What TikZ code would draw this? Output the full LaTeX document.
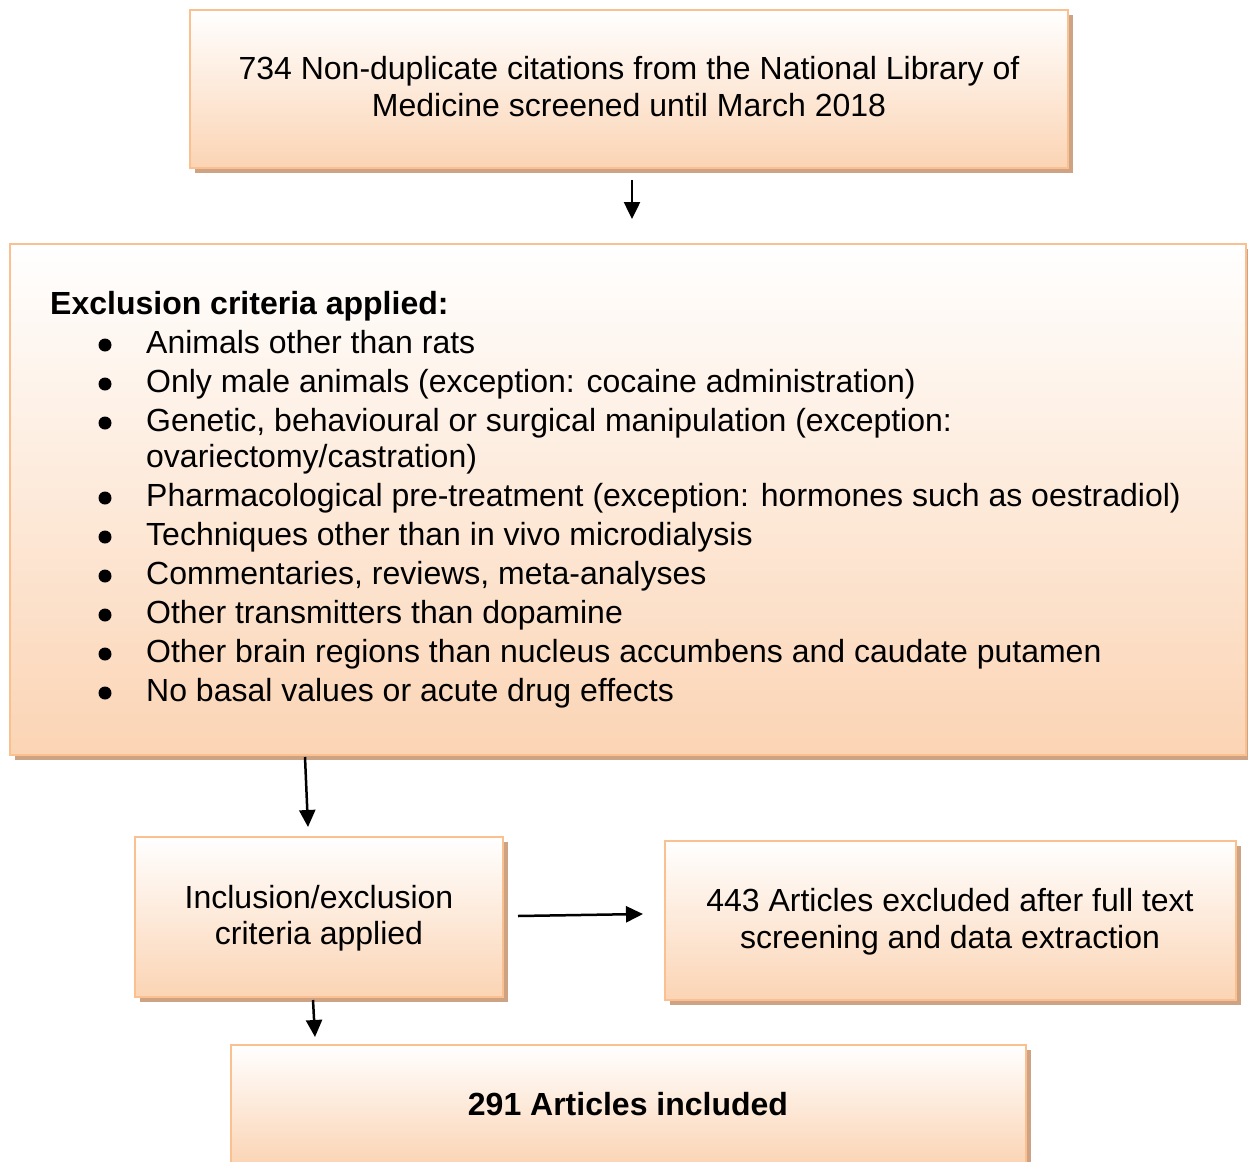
\documentclass[tikz,border=0pt]{standalone}
\usepackage{fontspec}
\setmainfont{Liberation Sans}
\usetikzlibrary{shadows,arrows.meta}
\definecolor{peach}{HTML}{FBD4B4}
\definecolor{peachedge}{HTML}{FAC090}
\definecolor{shadowc}{HTML}{CDA383}
\begin{document}
\begin{tikzpicture}[x=1pt,y=-1pt,
  box/.style={rectangle, draw=peachedge, line width=2.5pt, top color=white, bottom color=peach,
    drop shadow={shadow xshift=5pt, shadow yshift=-5pt, fill=shadowc, opacity=1}, inner sep=0pt},
  txt/.style={anchor=base, inner sep=0pt, font=\fontsize{32}{37}\selectfont},
  ltxt/.style={txt, anchor=base west},
  conn/.style={line width=2.5pt, -{Triangle[length=17pt,width=16pt]}},
  bul/.style={fill=black, draw=none}]
\useasboundingbox (0,0) rectangle (1248,1162);
% boxes
\node[box, minimum width=878pt, minimum height=158pt] (b1) at (629,89) {};
\node[box, minimum width=1236pt, minimum height=511pt] (b2) at (628,499.5) {};
\node[box, minimum width=368pt, minimum height=160pt] (b3) at (319,917) {};
\node[box, minimum width=571pt, minimum height=159pt] (b4) at (950.5,920.5) {};
\node[box, minimum width=795pt, minimum height=120pt] (b5) at (628.5,1105) {};
% box 1 text
\node[txt] (t1a) at (629,79) {734 Non-duplicate citations from the National Library of};
\node[txt] (t1b) at (629,116) {Medicine screened until March 2018};
% box 2 text
\node[ltxt, font=\fontsize{32}{37}\selectfont\bfseries] (t2h) at (50,314) {Exclusion criteria applied:};
\foreach \y/\t [count=\i] in {353/{Animals other than rats},
  392/{Only male animals (exception: cocaine administration)},
  431/{Genetic, behavioural or surgical manipulation (exception:},
  506/{Pharmacological pre-treatment (exception: hormones such as oestradiol)},
  545/{Techniques other than in vivo microdialysis},
  584/{Commentaries, reviews, meta-analyses},
  623/{Other transmitters than dopamine},
  662/{Other brain regions than nucleus accumbens and caudate putamen},
  701/{No basal values or acute drug effects}}{
  \node[ltxt] (it\i) at (146,\y) {\t};
  \fill[bul] (105,\y-8) circle (6.5pt);
}
\node[ltxt] (it3b) at (146,467) {ovariectomy/castration)};
% box 3 text
\node[txt] (t3a) at (319,908) {Inclusion/exclusion};
\node[txt] (t3b) at (319,944) {criteria applied};
% box 4 text
\node[txt] (t4a) at (950,911) {443 Articles excluded after full text};
\node[txt] (t4b) at (950,948) {screening and data extraction};
% box 5 text
\node[txt, font=\fontsize{32}{37}\selectfont\bfseries] (t5) at (628,1115) {291 Articles included};
% connectors
\coordinate (a1s) at (632,180); \coordinate (a1e) at (632,219);
\coordinate (a2s) at (305,757); \coordinate (a2e) at (308,827);
\coordinate (a3s) at (518,916); \coordinate (a3e) at (643,914);
\coordinate (a4s) at (313,1000); \coordinate (a4e) at (315,1037);
\draw[conn] (a1s) -- (a1e);
\draw[conn] (a2s) -- (a2e);
\draw[conn] (a3s) -- (a3e);
\draw[conn] (a4s) -- (a4e);
\end{tikzpicture}
\end{document}
